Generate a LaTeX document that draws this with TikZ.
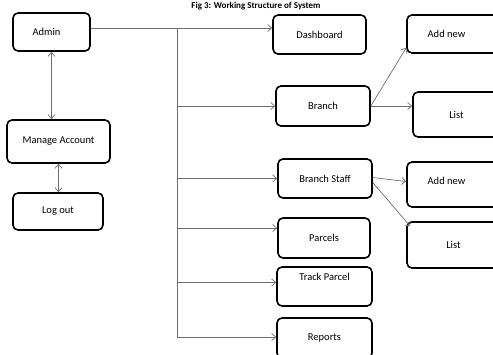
\documentclass[tikz,border=0pt]{standalone}
\usepackage{fontspec}
\setmainfont{Carlito}
\usepackage{tikz}
\usetikzlibrary{arrows,arrows.meta,positioning,calc}
\usepackage{xcolor}
\definecolor{edge}{RGB}{110,110,110}

\begin{document}
\begin{tikzpicture}[
    x=1pt, y=-1pt,
    >={Straight Barb[length=4pt,width=7pt]},
    box/.style={draw=black, line width=1.6pt, rounded corners=5pt,
                font=\fontsize{10.5}{12}\selectfont, inner sep=0pt},
    link/.style={->, edge, line width=0.7pt},
    both/.style={<->, edge, line width=0.7pt}
  ]
    \useasboundingbox (0,0) rectangle (493,354);
    \clip (0,0) rectangle (493,354);

    \node[font=\bfseries\fontsize{9}{10}\selectfont, anchor=base] (title) at (256,8) {Fig 3: Working Structure of System};

    \node[box, minimum width=77pt, minimum height=38pt] (admin) at (51.5,32) {\hspace*{-10pt}Admin};
    \node[box, minimum width=103pt, minimum height=43pt] (manage) at (58.5,141.5) {Manage Account};
    \node[box, minimum width=90pt, minimum height=37pt] (logout) at (58,211.5) {Log out};

    \node[box, minimum width=93pt, minimum height=39pt] (dash) at (319.5,34.5) {Dashboard};
    \node[box, minimum width=94pt, minimum height=40pt] (branch) at (323,106) {\raisebox{-6pt}{Branch}};
    \node[box, minimum width=94pt, minimum height=39pt] (staff) at (325,178.5) {Branch Staff};
    \node[box, minimum width=92pt, minimum height=40pt] (parcels) at (324,238) {Parcels};
    \node[box, minimum width=95pt, minimum height=39pt,
          label={[font=\fontsize{10.5}{12}\selectfont, anchor=north, yshift=-3pt]north:Track Parcel}] (track) at (324.5,286.5) {};
    \node[box, minimum width=95pt, minimum height=40pt] (reports) at (324.5,338) {Reports};

    \node[box, minimum width=93pt, minimum height=38pt] (addA) at (453.5,34) {\hspace*{-14pt}Add new};
    \node[box, minimum width=87pt, minimum height=45pt] (listA) at (456.5,114.5) {List};
    \node[box, minimum width=93pt, minimum height=45pt] (addB) at (453.5,184.5) {\raisebox{8pt}{\hspace*{-14pt}Add new}};
    \node[box, minimum width=93pt, minimum height=46pt] (listB) at (453.5,245) {List};

    \draw[both] (admin.south) -- (admin.south |- manage.north);
    \draw[both] (manage.south) -- (manage.south |- logout.north);

    \coordinate (trunk) at (177,28);
    \coordinate (foot) at (177,337);
    \draw[edge, line width=0.7pt] ([yshift=4]admin.east) -- (trunk) -- (foot);
    \draw[link] (trunk) -- (dash.west |- trunk);
    \draw[link] (trunk |- branch.west) -- (branch.west);
    \draw[link] (trunk |- staff.west) -- (staff.west);
    \draw[link] ($(trunk |- parcels.west)+(0,-10)$) -- ($(parcels.west)+(0,-10)$);
    \draw[link] ($(trunk |- track.west)+(0,-4)$) -- ($(track.west)+(0,-4)$);
    \draw[link] (foot) -- (reports.west |- foot);

    \draw[link] (branch.east) -- ([yshift=6]addA.south west);
    \draw[link] (branch.east) -- (listA.west |- branch.east);
    \draw[link] ([yshift=1]staff.east) -- ([yshift=3]addB.west);
    \draw[link] ([yshift=-4]staff.east) -- ([xshift=4,yshift=-5]listB.north west);
\end{tikzpicture}
\end{document}
